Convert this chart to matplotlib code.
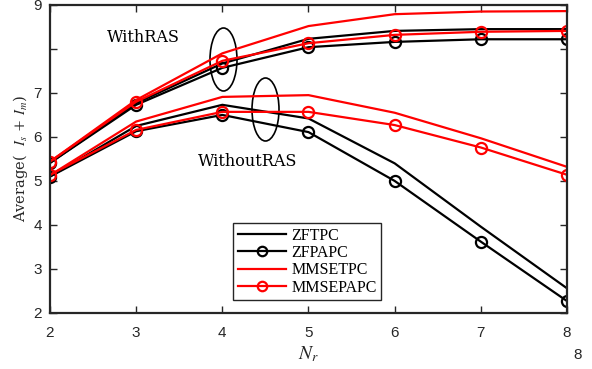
import matplotlib
matplotlib.use("Agg")
import matplotlib.pyplot as plt
from matplotlib.patches import Ellipse

plt.rcParams['mathtext.fontset'] = 'stix'

Nr = [2, 3, 4, 5, 6, 7, 8]

# With RAS
zftpc_ras = [5.40, 6.76, 7.66, 8.22, 8.40, 8.44, 8.44]
zfpapc_ras = [5.40, 6.72, 7.56, 8.03, 8.15, 8.21, 8.21]
mmsetpc_ras = [5.43, 6.83, 7.89, 8.51, 8.78, 8.84, 8.85]
mmsepapc_ras = [5.43, 6.79, 7.72, 8.12, 8.31, 8.38, 8.40]

# Without RAS
zftpc_no = [5.09, 6.24, 6.72, 6.41, 5.39, 3.95, 2.55]
zfpapc_no = [5.09, 6.12, 6.49, 6.10, 4.99, 3.61, 2.26]
mmsetpc_no = [5.12, 6.34, 6.90, 6.94, 6.54, 5.96, 5.31]
mmsepapc_no = [5.13, 6.15, 6.56, 6.56, 6.26, 5.75, 5.13]

yticks = [2, 3, 4, 5, 6, 7, 8, 9]
ytick_labels = ['2', '3', '4', '5', '6', '7', '', '9']

W, H = 592, 369
fig = plt.figure(figsize=(W / 100, H / 100), dpi=100)
ax = fig.add_axes([50 / W, (H - 312.5) / H, (567 - 50) / W, (312.5 - 4.5) / H])

lw = 1.6
ms = 8
mew = 1.6
ax.plot(Nr, zftpc_ras, color='black', lw=lw, label='ZFTPC')
ax.plot(Nr, zfpapc_ras, color='black', lw=lw, marker='o', ms=ms, mfc='none', mew=mew, label='ZFPAPC')
ax.plot(Nr, mmsetpc_ras, color='red', lw=lw, label='MMSETPC')
ax.plot(Nr, mmsepapc_ras, color='red', lw=lw, marker='o', ms=ms, mfc='none', mew=mew, label='MMSEPAPC')
ax.plot(Nr, zftpc_no, color='black', lw=lw)
ax.plot(Nr, zfpapc_no, color='black', lw=lw, marker='o', ms=ms, mfc='none', mew=mew)
ax.plot(Nr, mmsetpc_no, color='red', lw=lw)
ax.plot(Nr, mmsepapc_no, color='red', lw=lw, marker='o', ms=ms, mfc='none', mew=mew)

ax.set_xlim(2, 8)
ax.set_ylim(2, 9)
ax.set_xticks(Nr)
ax.set_xticklabels([str(n) for n in Nr], fontfamily='Liberation Sans', fontsize=11, color='#262626')
ax.set_yticks(yticks)
ax.set_yticklabels(ytick_labels, fontfamily='Liberation Sans', fontsize=11, color='#262626')
ax.tick_params(direction='in', top=True, right=True, length=5, width=1.0, colors='#262626')
ax.tick_params(axis='x', pad=10)
ax.tick_params(axis='y', pad=6)
for s in ax.spines.values():
    s.set_linewidth(1.6)
    s.set_color('#262626')

ax.set_xlabel('$N_r$', fontsize=14, color='#262626', labelpad=3)
ax.set_ylabel('Average(  $I_s$ + $I_m$)', fontfamily='DejaVu Serif', fontsize=10.5, color='#262626', labelpad=2)

# stray label
fig.text(578 / W, 1 - 355 / H, '8', fontfamily='Liberation Sans', fontsize=11, color='#262626', ha='center', va='center')

def px2data(x, y):
    inv = ax.transData.inverted()
    return inv.transform((x, H - y))

def pxw(w):
    return w / ((567 - 50) / 6)

def pxh(h):
    return h / ((312.5 - 4.5) / 7)

cx, cy = px2data(223.5, 59.5)
ax.add_patch(Ellipse((cx, cy), pxw(27), pxh(63), fill=False, ec='black', lw=1.2))
cx, cy = px2data(265.5, 109.5)
ax.add_patch(Ellipse((cx, cy), pxw(27), pxh(63), fill=False, ec='black', lw=1.2))
tx, ty = px2data(143, 38)
ax.text(tx, ty, 'WithRAS', fontfamily='DejaVu Serif', fontsize=11.5, ha='center', va='center')
tx, ty = px2data(248, 161)
ax.text(tx, ty, 'WithoutRAS', fontfamily='DejaVu Serif', fontsize=11.5, ha='center', va='center')

leg = ax.legend(loc='upper left', bbox_to_anchor=((233 - 50) / 517, (312.5 - 223) / 308),
                prop={'family': 'Liberation Serif', 'size': 11.5}, frameon=True, fancybox=False,
                edgecolor='#262626', framealpha=1, borderpad=0.3, labelspacing=0.08,
                handlelength=3.0, handletextpad=0.35, borderaxespad=0, markerscale=0.85)
leg.get_frame().set_linewidth(1.0)

fig.savefig('out.png', dpi=100)
